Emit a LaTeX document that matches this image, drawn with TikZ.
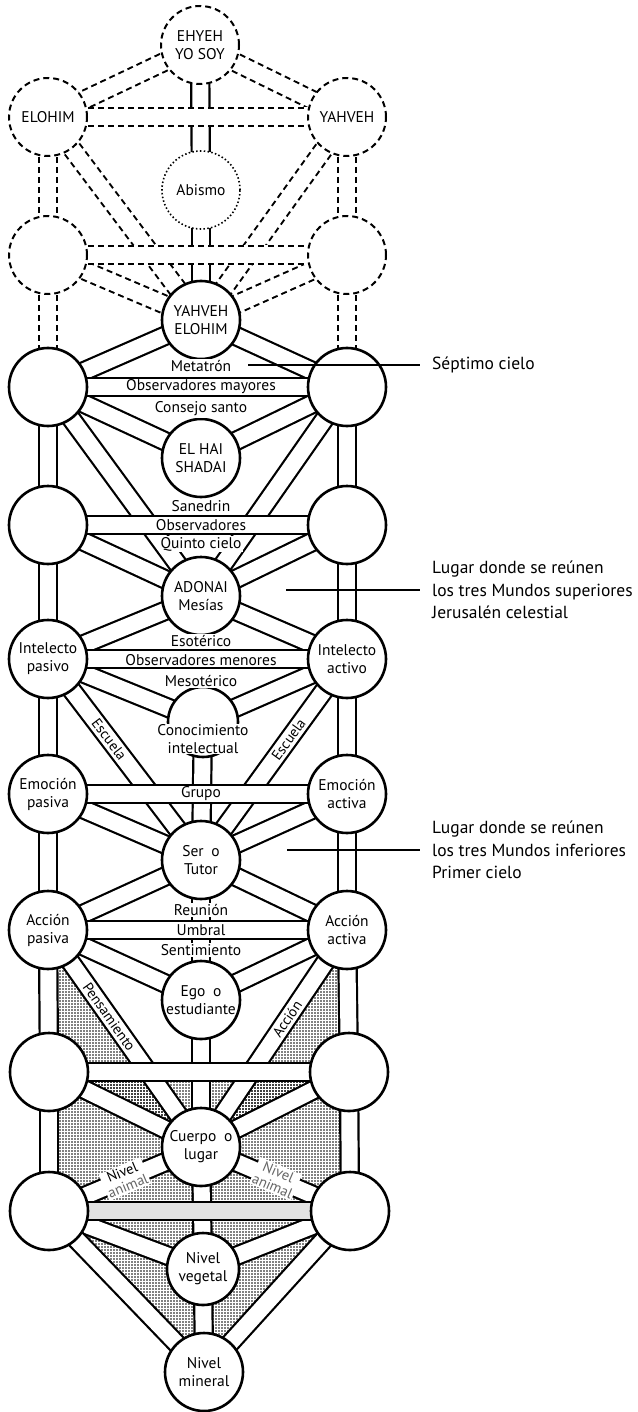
\documentclass[tikz,border=0pt]{standalone}
\usepackage{fontspec}
\setmainfont{PT Sans}
\usetikzlibrary{positioning,patterns,backgrounds}
\pgfdeclarepatternformonly{stippledots}{\pgfqpoint{-1.5pt}{-1.5pt}}{\pgfqpoint{1.5pt}{1.5pt}}{\pgfqpoint{3pt}{3pt}}%
  {\pgfpathcircle{\pgfqpoint{0pt}{0pt}}{0.95pt}\pgfusepath{fill}}

\begin{document}
\begin{tikzpicture}[x=1pt, y=-1pt
% Sephirah styles
		, sefira/.style={circle
							    , draw=black, line width=2.6pt
							    , fill=white
							    , minimum size=78pt
							    , inner sep=-8pt
							    , align=center
							    , font=\fontsize{15.5}{18}\selectfont}
		, divine/.style={sefira
							    , line width=2pt
							    , dash pattern=on 6pt off 4pt}
		, abyss/.style={sefira
							    , line width=1.6pt
							    , dash pattern=on 1.5pt off 2.3pt}
% Channel styles
		, channel/.style={line width=2.2pt
							    , double=white
							    , double distance=16pt}
		, dchannel/.style={preaction={draw=white, line width=20pt, solid}
							    , draw=black, line width=20pt
							    , dash pattern=on 6pt off 4pt
							    , postaction={draw=white, line width=16pt, solid}}
		, earth/.style={channel, double=gray!22}
		, stipple/.style={pattern=stippledots, pattern color=black}
% Label styles
		, lab/.style={fill=white
							    , inner sep=1.5pt
							    , font=\fontsize{15.5}{18}\selectfont}
		, chanlab/.style={inner sep=0.5pt
							    , font=\fontsize{14.5}{16}\selectfont}
		, note/.style={anchor=west
							    , align=left
							    , inner sep=0pt
							    , font=\fontsize{17.5}{22.5}\selectfont}
	]
	\useasboundingbox (0,0) rectangle (637,1412);
%% Upper (dashed) tree
	\node[divine] (ehyeh)   at (200,45)  {EHYEH\\YO SOY};
	\node[divine] (elohim)  at (48,117)  {ELOHIM};
	\node[divine] (yahveh)  at (347,117) {YAHVEH};
	\node[abyss]  (abismo)  at (201,190) {Abismo};
	\node[divine] (l2)      at (48,255)  {};
	\node[divine] (r2)      at (347,255) {};
%% Middle pillar
	\node[sefira] (yelohim) at (201,320)  {YAHVEH\\ELOHIM};
	\node[sefira] (elhai)   at (201,458)  {EL HAI\\SHADAI};
	\node[sefira] (adonai)  at (201,596)  {ADONAI\\Mesías};
	\node[sefira, minimum size=70pt] (daat) at (203,722) {};
	\node[sefira] (tutor)   at (201,860)  {Ser\enspace o\\Tutor};
	\node[sefira] (ego)     at (201,1000) {Ego\enspace o\\estudiante};
	\node[sefira] (cuerpo)  at (201,1147) {Cuerpo\enspace o\\lugar};
	\node[sefira, minimum size=72pt] (vegetal) at (203,1269) {Nivel\\vegetal};
	\node[sefira] (mineral) at (204,1372) {Nivel\\mineral};
%% Side pillars
	\node[sefira] (l3) at (48,387)  {};
	\node[sefira] (r3) at (347,387) {};
	\node[sefira] (l4) at (48,525)  {};
	\node[sefira] (r4) at (347,525) {};
	\node[sefira] (l5) at (48,659)  {Intelecto\\pasivo};
	\node[sefira] (r5) at (347,659) {Intelecto\\activo};
	\node[sefira] (l6) at (48,794)  {Emoción\\pasiva};
	\node[sefira] (r6) at (347,794) {Emoción\\activa};
	\node[sefira] (l7) at (48,930)  {Acción\\pasiva};
	\node[sefira] (r7) at (347,930) {Acción\\activa};
	\node[sefira] (l8) at (49,1072) {};
	\node[sefira] (r8) at (349,1072) {};
	\node[sefira] (l9) at (49,1211) {};
	\node[sefira] (r9) at (350,1211) {};

%% Draw stipple and channels
	\begin{scope}[on background layer]
	\fill[stipple] (l7.center) -- (l8.center) -- (cuerpo.center) -- cycle;
	\fill[stipple] (r7.center) -- (r8.center) -- (cuerpo.center) -- cycle;
	\fill[stipple] (l8.center) -- (l9.center) -- (mineral.center) -- (r9.center) -- (r8.center) -- cycle;
	% dashed paths
	\foreach \a/\b in {ehyeh/elohim, ehyeh/yahveh, elohim/l2, yahveh/r2, elohim/yelohim,
	                   yahveh/yelohim, l2/yelohim, r2/yelohim, l2/l3, r2/r3}
	  \draw[dchannel] (\a.center) -- (\b.center);
	% middle pillar
	\foreach \a/\b in {ehyeh/abismo, abismo/yelohim, daat/tutor, tutor/ego, ego/cuerpo,
	                   cuerpo/vegetal, vegetal/mineral}
	  \draw[channel] (\a.center) -- (\b.center);
	% diagonals
	\foreach \a/\b in {yelohim/l3, yelohim/r3, l3/elhai, r3/elhai, l3/adonai, r3/adonai,
	                   l4/adonai, r4/adonai, adonai/l5, adonai/r5, l5/daat, r5/daat,
	                   l5/tutor, r5/tutor, l6/tutor, r6/tutor, tutor/l7, tutor/r7,
	                   l7/ego, r7/ego, l7/cuerpo, r7/cuerpo, l8/cuerpo, r8/cuerpo,
	                   cuerpo/l9, cuerpo/r9, l9/vegetal, r9/vegetal, l9/mineral, r9/mineral}
	  \draw[channel] (\a.center) -- (\b.center);
	% side pillars
	\foreach \i/\j in {3/4, 4/5, 5/6, 6/7, 7/8, 8/9}{
	  \draw[channel] (l\i.center) -- (l\j.center);
	  \draw[channel] (r\i.center) -- (r\j.center);
	}
	% horizontals
	\foreach \a/\b in {elohim/yahveh, l2/r2}
	  \draw[dchannel] (\a.center) -- (\b.center);
	\foreach \i in {3,...,8}
	  \draw[channel] (l\i.center) -- (r\i.center);
	\draw[earth] (l9.center) -- (r9.center);
	\end{scope}

%% Labels
	\node[lab] (metatron)    at (201,366) {Metatrón};
	\node[chanlab, font=\fontsize{15.5}{18}\selectfont] (obsmay) at (201,387) {Observadores mayores};
	\node[lab] (consejo)     at (201,409) {Consejo santo};
	\node[lab] (sanedrin)    at (201,506) {Sanedrin};
	\node[chanlab, font=\fontsize{15.5}{18}\selectfont] (obs) at (201,525) {Observadores};
	\node[lab] (quinto)      at (201,544) {Quinto cielo};
	\node[lab] (esoterico)   at (201,641) {Esotérico};
	\node[chanlab, font=\fontsize{15.5}{18}\selectfont] (obsmen) at (201,660) {Observadores menores};
	\node[lab] (mesoterico)  at (201,681) {Mesotérico};
	\node[lab, inner sep=0.5pt, align=center] (conocimiento) at (203,739) {Conocimiento\\intelectual};
	\node[chanlab, font=\fontsize{15.5}{18}\selectfont] (grupo) at (201,794) {Grupo};
	\node[lab] (reunion)     at (201,910) {Reunión};
	\node[chanlab, font=\fontsize{15.5}{18}\selectfont] (umbral) at (201,930) {Umbral};
	\node[lab] (sentimiento) at (201,950) {Sentimiento};
	\path (l5.center) -- node[chanlab, sloped, pos=0.4] (escuelal) {Escuela} (tutor.center);
	\path (r5.center) -- node[chanlab, sloped, pos=0.4] (escuelar) {Escuela} (tutor.center);
	\path (l7.center) -- node[chanlab, sloped, pos=0.4] (pensamiento) {Pensamiento} (cuerpo.center);
	\path (r7.center) -- node[chanlab, sloped, pos=0.41] (accion) {Acción} (cuerpo.center);
	\path (cuerpo.center) -- node[lab, sloped, align=center, inner sep=1.5pt
	      , font=\fontsize{14.5}{15}\selectfont] (animall) {Nivel\\\textcolor{black!60}{animal}} (l9.center);
	\path (cuerpo.center) -- node[lab, sloped, align=center, inner sep=1.5pt, text=black!60
	      , font=\fontsize{14.5}{15}\selectfont] (animalr) {Nivel\\animal} (r9.center);

%% Notes on the right
	\coordinate (n7) at (248,365);
	\coordinate (n5) at (286,590);
	\coordinate (n1) at (287,850);
	\node[note] (septimo)    at (432,365) {Séptimo cielo};
	\node[note] (superiores) at (432,590) {Lugar donde se reúnen\\los tres Mundos superiores\\Jerusalén celestial};
	\node[note] (inferiores) at (432,850) {Lugar donde se reúnen\\los tres Mundos inferiores\\Primer cielo};
	\draw[line width=1.3pt] (n7) -- ([xshift=-12pt]septimo.west);
	\draw[line width=1.3pt] (n5) -- ([xshift=-12pt]superiores.west);
	\draw[line width=1.3pt] (n1) -- ([xshift=-12pt]inferiores.west);
\end{tikzpicture}
\end{document}
